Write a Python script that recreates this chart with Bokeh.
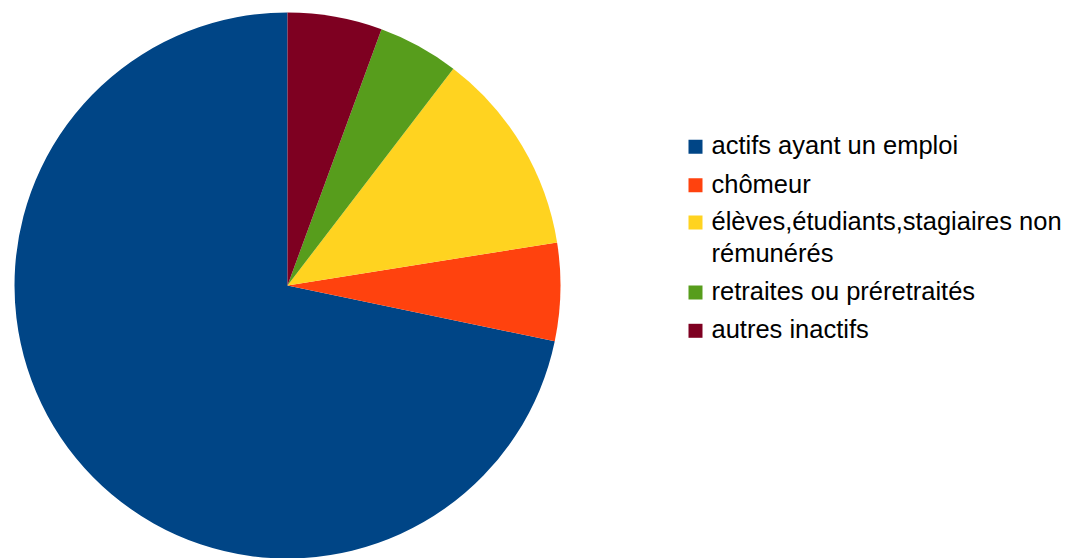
import math
from bokeh.plotting import figure
from bokeh.models import Range1d, ColumnDataSource
from bokeh.core.properties import value
from bokeh.embed import file_html
from bokeh.resources import INLINE

# ---- data ----
categories = ["actifs ayant un emploi", "chômeur",
              "élèves,étudiants,stagiaires non rémunérés",
              "retraites ou préretraités", "autres inactifs"]
shares = [71.8, 5.8, 12.1, 4.8, 5.6]
colors = ["#004586", "#ff420e", "#ffd320", "#579d1c", "#7e0021"]
legend_lines = [["actifs ayant un emploi"], ["chômeur"],
                ["élèves,étudiants,stagiaires non", "rémunérés"],
                ["retraites ou préretraités"], ["autres inactifs"]]

W, H = 1066, 558
def sy(y):  # screen y -> data y
    return H - y
def sx(x):
    return x

p = figure(width=W, height=H, output_backend="svg", toolbar_location=None,
           x_range=Range1d(0, W), y_range=Range1d(0, H), min_border=0)
p.axis.visible = False
p.grid.visible = False
p.outline_line_color = None
p.background_fill_color = "white"

total = sum(shares)
starts, ends = [], []
a = math.pi / 2
for s in shares:
    starts.append(a)
    a += 2 * math.pi * s / total
    ends.append(a)

src = ColumnDataSource(dict(start=starts, end=ends, color=colors, cat=categories))
p.wedge(x=sx(287), y=sy(285), radius=273, start_angle="start", end_angle="end",
        direction="anticlock", fill_color="color", line_color=None, source=src)

# legend
entry_base = [154.3, 192.7, 230.0, 300.0, 338.3]
wrap_step = 31.5
text_shift = -9.5
sq_x, sq_size = 695, 14
tx = 711
sqx, sqy, sqc = [], [], []
tx_l, ty_l, tt = [], [], []
for i, lines in enumerate(legend_lines):
    b = entry_base[i]
    sqx.append(sx(sq_x)); sqy.append(sy(b - 8)); sqc.append(colors[i])
    for j, ln in enumerate(lines):
        tx_l.append(sx(tx)); ty_l.append(sy(b + j * wrap_step + text_shift)); tt.append(ln)

p.rect(x=sqx, y=sqy, width=sq_size, height=sq_size, fill_color=sqc, line_color=None)
p.text(x=tx_l, y=ty_l, text=tt, text_font=value("Liberation Sans"),
       text_font_size="25.5px", text_color="#000000", text_baseline="alphabetic",
       text_align="left")

open("out.html", "w").write(file_html(p, INLINE))
